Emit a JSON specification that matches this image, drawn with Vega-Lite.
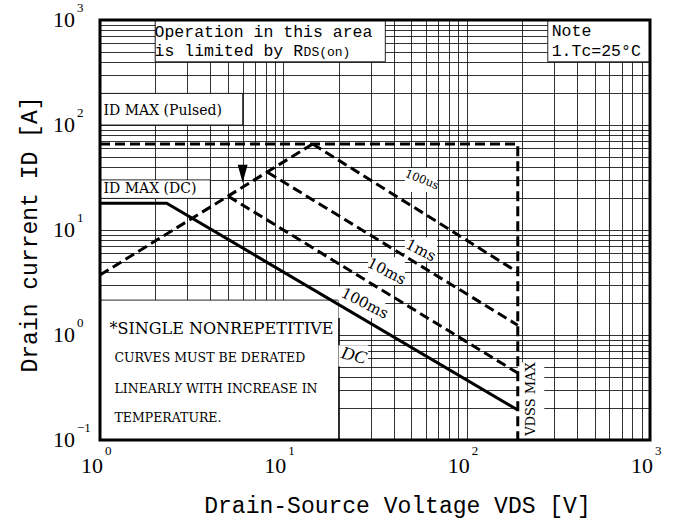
{
  "$schema": "https://vega.github.io/schema/vega-lite/v6.json",
  "width": 550,
  "height": 420,
  "autosize": {"type": "none"},
  "padding": {"left": 100, "top": 20, "right": 31, "bottom": 84},
  "background": "white",
  "config": {
    "view": {"stroke": null},
    "axis": {
      "grid": true, "gridColor": "#000", "gridOpacity": 0.8, "gridWidth": 1,
      "domain": false, "ticks": false, "labels": false,
      "titleColor": "#000", "titleFont": "Liberation Mono", "titleFontSize": 23, "titleFontWeight": "normal"
    }
  },
  "datasets": {
    "lines": [
      {"s": "pulsed", "o": 1, "v": 1, "i": 66},
      {"s": "pulsed", "o": 2, "v": 190, "i": 66},
      {"s": "pulsed", "o": 3, "v": 190, "i": 0.1},
      {"s": "rds", "o": 1, "v": 1, "i": 3.72},
      {"s": "rds", "o": 2, "v": 14.45, "i": 66},
      {"s": "100us", "o": 1, "v": 14.45, "i": 66},
      {"s": "100us", "o": 2, "v": 190, "i": 3.96},
      {"s": "1ms", "o": 1, "v": 8.2, "i": 35.5},
      {"s": "1ms", "o": 2, "v": 190, "i": 1.24},
      {"s": "10ms", "o": 1, "v": 5.0, "i": 21},
      {"s": "10ms", "o": 2, "v": 190, "i": 0.434},
      {"s": "DC", "o": 1, "v": 1, "i": 18},
      {"s": "DC", "o": 2, "v": 2.31, "i": 18},
      {"s": "DC", "o": 3, "v": 190, "i": 0.193}
    ],
    "boxes": [
      {"v": 2, "v2": 36, "i": 400, "i2": 1000},
      {"v": 277, "v2": 1000, "i": 400, "i2": 1000},
      {"v": 1, "v2": 6, "i": 100, "i2": 200},
      {"v": 1, "v2": 4, "i": 20, "i2": 30},
      {"v": 1, "v2": 20, "i": 0.1, "i2": 2.15}
    ],
    "plainboxes": [
      {"v": 20, "v2": 29, "i": 0.5, "i2": 0.8},
      {"v": 190, "v2": 265, "i": 0.1, "i2": 0.55},
      {"v": 46, "v2": 69, "i": 23, "i2": 39},
      {"v": 46, "v2": 69, "i": 5, "i2": 8.5},
      {"v": 29, "v2": 46, "i": 3, "i2": 5.5},
      {"v": 20, "v2": 36, "i": 1.45, "i2": 2.9}
    ],
    "frame": [{"v": 1, "v2": 1000, "i": 0.1, "i2": 1000}],
    "arrow": [{"v": 6, "i": 34.3}],
    "monotext": [
      {"v": 1.984, "i": 690, "t": "Operation in this area"},
      {"v": 1.984, "i": 455, "t": "is limited by R"},
      {"v": 291, "i": 698, "t": "Note"},
      {"v": 291, "i": 455, "t": "1.Tc=25°C"}
    ],
    "monosmall": [{"v": 12.9, "i": 455, "t": "DS(on)"}],
    "idtext": [
      {"v": 1.045, "i": 123.7, "t": "ID MAX (Pulsed)"},
      {"v": 1.045, "i": 22.4, "t": "ID MAX (DC)"}
    ],
    "notehead": [{"v": 1.127, "i": 1.02, "t": "*SINGLE NONREPETITIVE"}],
    "notebody": [
      {"v": 1.2, "i": 0.5524, "t": "CURVES MUST BE DERATED"},
      {"v": 1.2, "i": 0.28, "t": "LINEARLY WITH INCREASE IN"},
      {"v": 1.2, "i": 0.1484, "t": "TEMPERATURE."}
    ],
    "mslabels": [
      {"v": 56.2, "i": 6.43, "t": "1ms"},
      {"v": 36.6, "i": 4.06, "t": "10ms"},
      {"v": 27.8, "i": 2.01, "t": "100ms"}
    ],
    "uslabel": [{"v": 56.9, "i": 29.8, "t": "100us"}],
    "dclabel": [{"v": 24.2, "i": 0.63, "t": "DC"}],
    "vdss": [{"v": 223.9, "i": 0.2455, "t": "VDSS MAX"}],
    "xticks": [
      {"v": 1, "i": 0.1, "e": "0"},
      {"v": 10, "i": 0.1, "e": "1"},
      {"v": 100, "i": 0.1, "e": "2"},
      {"v": 1000, "i": 0.1, "e": "3"}
    ],
    "yticks": [
      {"v": 1, "i": 0.1, "e": "−1"},
      {"v": 1, "i": 1, "e": "0"},
      {"v": 1, "i": 10, "e": "1"},
      {"v": 1, "i": 100, "e": "2"},
      {"v": 1, "i": 1000, "e": "3"}
    ]
  },
  "encoding": {
    "x": {
      "field": "v", "type": "quantitative",
      "scale": {"type": "log", "domain": [1, 1000], "nice": false},
      "axis": {
        "values": [1,2,3,4,5,6,7,8,9,10,20,30,40,50,60,70,80,90,100,200,300,400,500,600,700,800,900,1000],
        "title": "Drain-Source Voltage VDS [V]",
        "titleX": 297, "titleY": 72, "titleAlign": "center", "titleBaseline": "alphabetic"
      }
    },
    "y": {
      "field": "i", "type": "quantitative",
      "scale": {"type": "log", "domain": [0.1, 1000], "nice": false},
      "axis": {
        "values": [0.1,0.2,0.3,0.4,0.5,0.6,0.7,0.8,0.9,1,2,3,4,5,6,7,8,9,10,20,30,40,50,60,70,80,90,100,200,300,400,500,600,700,800,900,1000],
        "title": "Drain current ID [A]",
        "titleX": -71, "titleY": 214, "titleAngle": 270, "titleAlign": "center", "titleBaseline": "middle"
      }
    }
  },
  "layer": [
    {
      "data": {"name": "boxes"},
      "mark": {"type": "rect", "fill": "white", "stroke": "#000", "strokeWidth": 1, "strokeOpacity": 0.85},
      "encoding": {"x2": {"field": "v2"}, "y2": {"field": "i2"}}
    },
    {
      "data": {"name": "plainboxes"},
      "mark": {"type": "rect", "fill": "white", "strokeWidth": 0},
      "encoding": {"x2": {"field": "v2"}, "y2": {"field": "i2"}}
    },
    {
      "data": {"name": "lines"},
      "transform": [{"filter": "datum.s != 'DC'"}],
      "mark": {"type": "line", "color": "#000", "strokeWidth": 3, "strokeDash": [10, 5]},
      "encoding": {"detail": {"field": "s"}, "order": {"field": "o"}}
    },
    {
      "data": {"name": "lines"},
      "transform": [{"filter": "datum.s == 'DC'"}],
      "mark": {"type": "line", "color": "#000", "strokeWidth": 3},
      "encoding": {"order": {"field": "o"}}
    },
    {
      "data": {"name": "arrow"},
      "mark": {"type": "point", "shape": "M-0.55,-1L0.55,-1L0,1Z", "size": 324, "filled": true, "color": "#000", "opacity": 1}
    },
    {
      "data": {"name": "monotext"},
      "mark": {"type": "text", "align": "left", "baseline": "alphabetic", "font": "Liberation Mono", "fontSize": 16.5, "color": "#000"},
      "encoding": {"text": {"field": "t"}}
    },
    {
      "data": {"name": "monosmall"},
      "mark": {"type": "text", "align": "left", "baseline": "alphabetic", "font": "Liberation Mono", "fontSize": 13, "color": "#000"},
      "encoding": {"text": {"field": "t"}}
    },
    {
      "data": {"name": "idtext"},
      "mark": {"type": "text", "align": "left", "baseline": "alphabetic", "font": "DejaVu Serif", "fontSize": 14, "color": "#000"},
      "encoding": {"text": {"field": "t"}}
    },
    {
      "data": {"name": "notehead"},
      "mark": {"type": "text", "align": "left", "baseline": "alphabetic", "font": "DejaVu Serif", "fontSize": 16, "color": "#000"},
      "encoding": {"text": {"field": "t"}}
    },
    {
      "data": {"name": "notebody"},
      "mark": {"type": "text", "align": "left", "baseline": "alphabetic", "font": "DejaVu Serif", "fontSize": 12.5, "color": "#000"},
      "encoding": {"text": {"field": "t"}}
    },
    {
      "data": {"name": "mslabels"},
      "mark": {"type": "text", "align": "center", "baseline": "middle", "font": "DejaVu Serif", "fontSize": 15, "angle": 27, "color": "#000"},
      "encoding": {"text": {"field": "t"}}
    },
    {
      "data": {"name": "uslabel"},
      "mark": {"type": "text", "align": "center", "baseline": "middle", "font": "DejaVu Serif", "fontSize": 11.5, "angle": 22, "color": "#000"},
      "encoding": {"text": {"field": "t"}}
    },
    {
      "data": {"name": "dclabel"},
      "mark": {"type": "text", "align": "center", "baseline": "middle", "font": "Liberation Serif", "fontStyle": "italic", "fontSize": 18, "angle": 15, "color": "#000"},
      "encoding": {"text": {"field": "t"}}
    },
    {
      "data": {"name": "vdss"},
      "mark": {"type": "text", "align": "center", "baseline": "middle", "font": "DejaVu Serif", "fontSize": 13, "angle": 270, "color": "#000"},
      "encoding": {"text": {"field": "t"}}
    },
    {
      "data": {"name": "frame"},
      "mark": {"type": "rect", "fill": "white", "fillOpacity": 0, "stroke": "#000", "strokeWidth": 3},
      "encoding": {"x2": {"field": "v2"}, "y2": {"field": "i2"}}
    },
    {
      "data": {"name": "xticks"},
      "mark": {"type": "text", "text": "10", "align": "right", "baseline": "alphabetic", "dx": 3, "dy": 33, "font": "Liberation Serif", "fontSize": 22, "color": "#000"}
    },
    {
      "data": {"name": "xticks"},
      "mark": {"type": "text", "align": "left", "baseline": "alphabetic", "dx": 5, "dy": 15, "font": "Liberation Serif", "fontSize": 13, "color": "#000"},
      "encoding": {"text": {"field": "e"}}
    },
    {
      "data": {"name": "yticks"},
      "mark": {"type": "text", "text": "10", "align": "right", "baseline": "alphabetic", "dx": -25, "dy": 7, "font": "Liberation Serif", "fontSize": 22, "color": "#000"}
    },
    {
      "data": {"name": "yticks"},
      "mark": {"type": "text", "align": "left", "baseline": "alphabetic", "dx": -23, "dy": -8, "font": "Liberation Serif", "fontSize": 13, "color": "#000"},
      "encoding": {"text": {"field": "e"}}
    }
  ]
}
